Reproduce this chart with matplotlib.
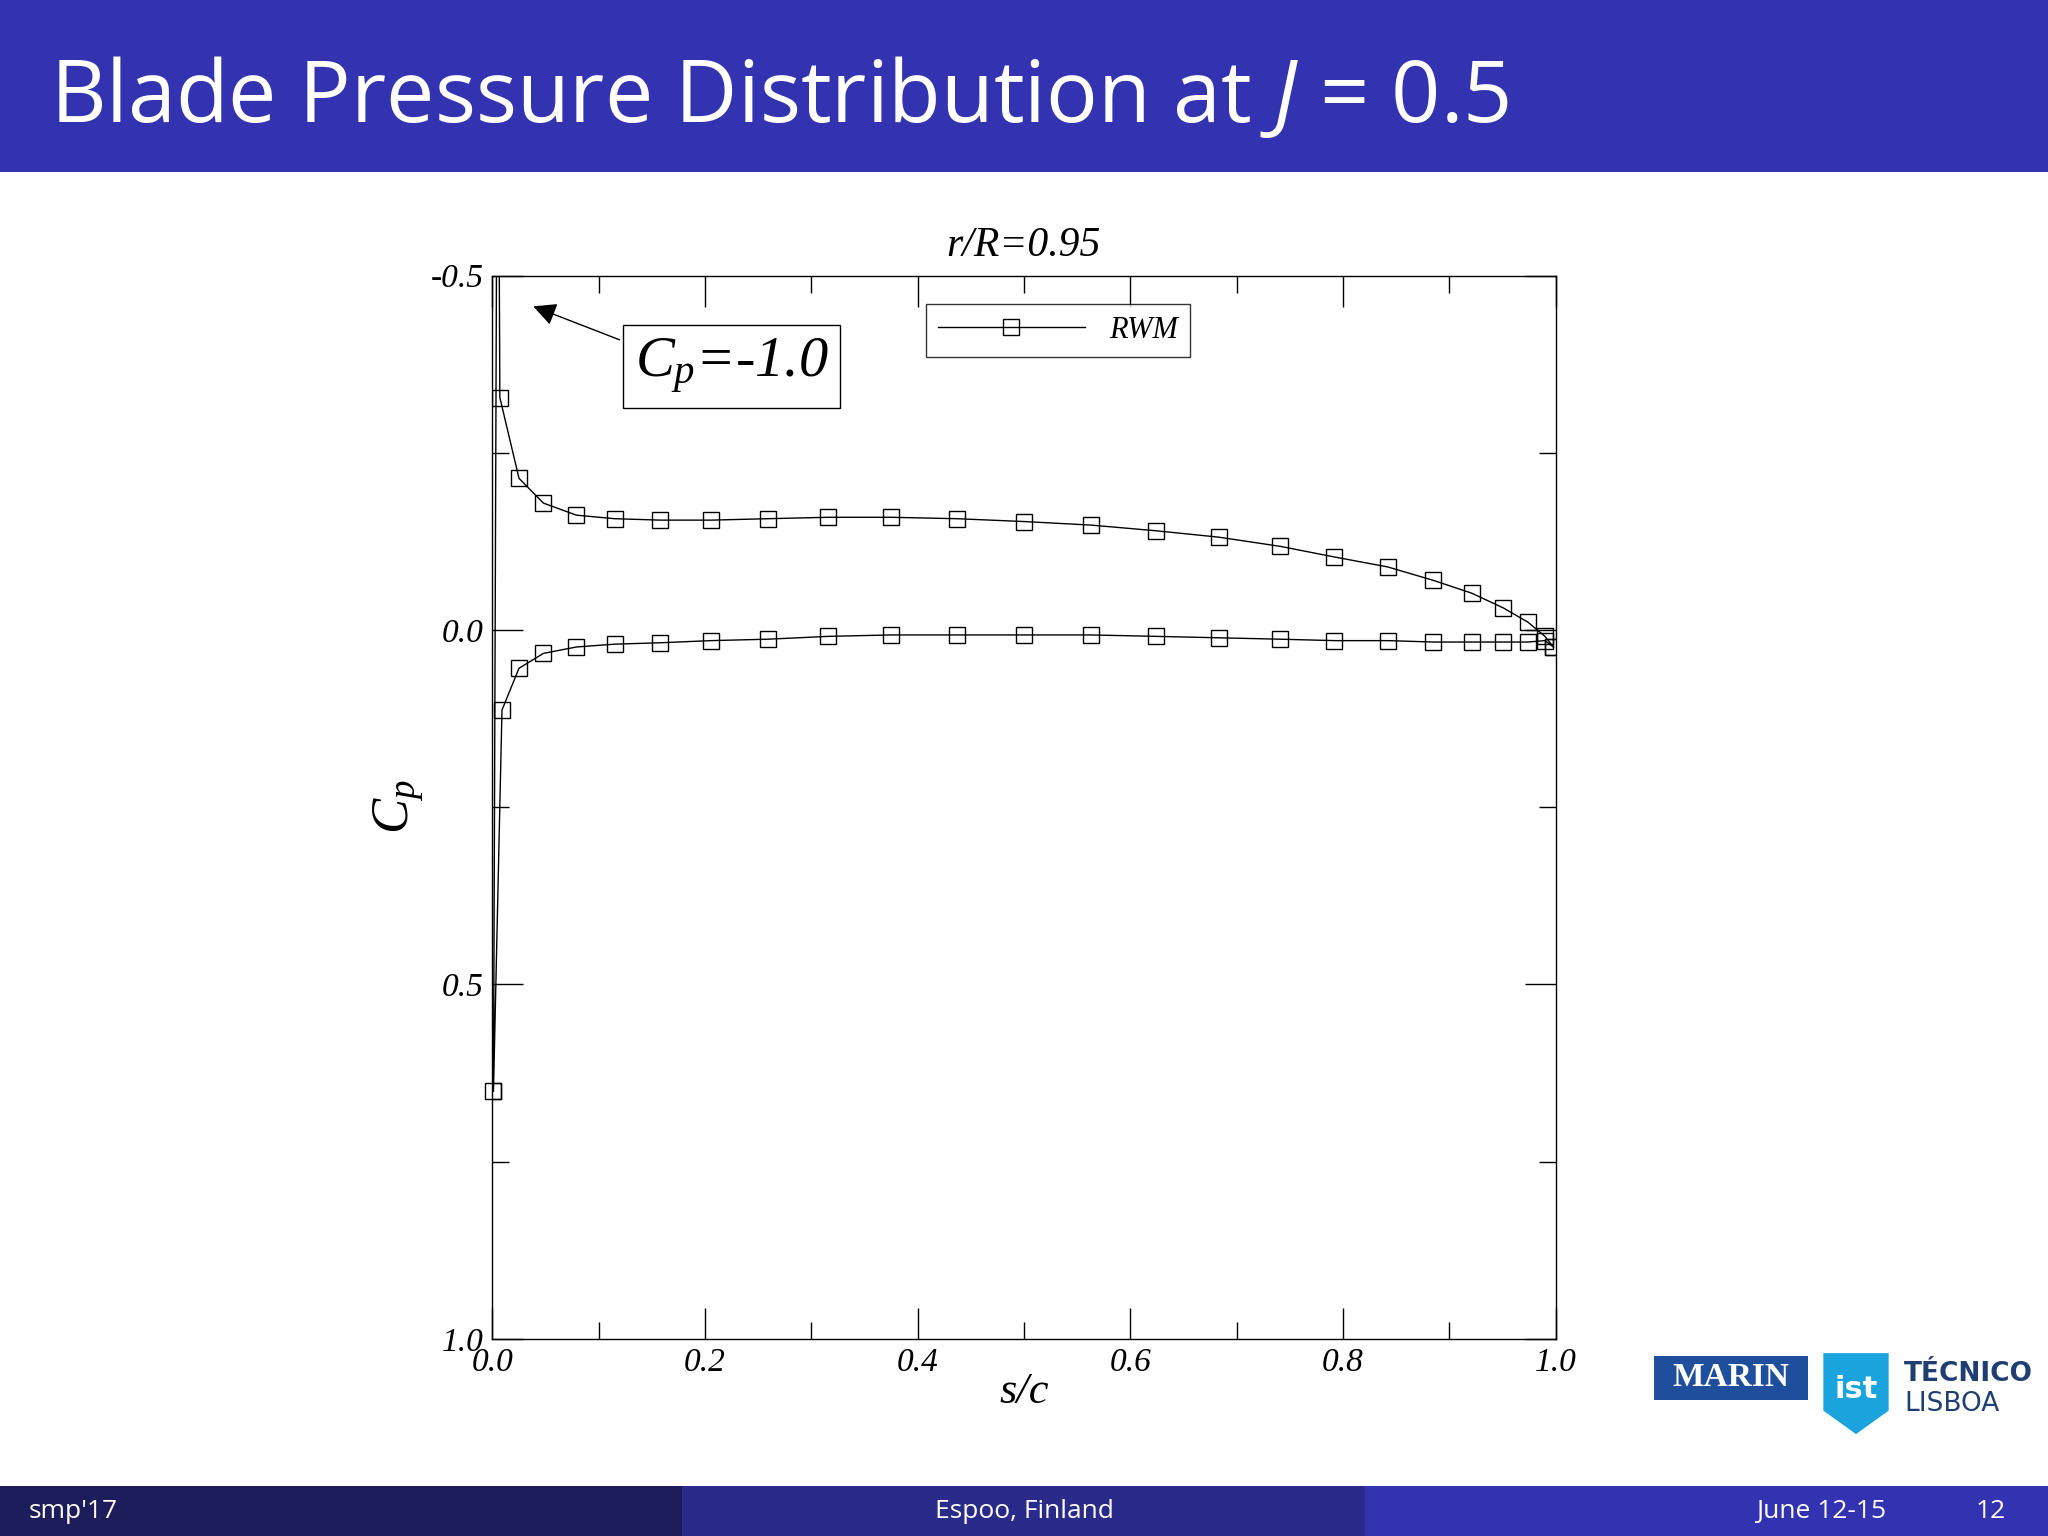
import matplotlib
matplotlib.use("Agg")
import matplotlib.pyplot as plt
from matplotlib.patches import Rectangle, Polygon

plt.rcParams["mathtext.fontset"] = "custom"
plt.rcParams["mathtext.rm"] = "Liberation Serif"
plt.rcParams["mathtext.it"] = "Liberation Serif:italic"
plt.rcParams["mathtext.sf"] = "Open Sans:italic"

title = "Blade Pressure Distribution at "
subtitle = "r/R=0.95"
series_name = "RWM"
x_ticks = [0.0, 0.2, 0.4, 0.6, 0.8, 1.0]
y_ticks = [-0.5, 0.0, 0.5, 1.0]

# upper (suction) side, trailing edge -> leading edge
upper_s = [0.998, 0.990, 0.974, 0.951, 0.921, 0.885, 0.842, 0.792, 0.741, 0.683, 0.624, 0.563,
           0.500, 0.437, 0.375, 0.316, 0.259, 0.206, 0.158, 0.115, 0.079, 0.048, 0.025, 0.007]
upper_cp = [0.024, 0.009, -0.011, -0.031, -0.052, -0.070, -0.089, -0.103, -0.118, -0.131, -0.140, -0.148,
            -0.153, -0.157, -0.159, -0.159, -0.157, -0.155, -0.155, -0.157, -0.162, -0.179, -0.214, -0.328]
# leading-edge peak (off scale) and stagnation point
le_s = [0.005, 0.001]
le_cp = [-1.0, 0.651]
# lower (pressure) side, leading edge -> trailing edge
lower_s = [0.009, 0.025, 0.048, 0.079, 0.115, 0.158, 0.206, 0.259, 0.316, 0.375, 0.437, 0.500,
           0.563, 0.624, 0.683, 0.741, 0.792, 0.842, 0.885, 0.921, 0.951, 0.974, 0.990, 0.998]
lower_cp = [0.113, 0.054, 0.033, 0.024, 0.020, 0.018, 0.015, 0.013, 0.009, 0.007, 0.007, 0.007,
            0.007, 0.009, 0.011, 0.013, 0.015, 0.015, 0.017, 0.017, 0.017, 0.017, 0.015, 0.024]

s_all = upper_s + le_s + lower_s
cp_all = upper_cp + le_cp + lower_cp
marks = [i for i in range(len(s_all)) if i != len(upper_s)]

fig = plt.figure(figsize=(20.48, 15.36), dpi=100)
fig.patch.set_facecolor("white")

# header
fig.add_artist(Rectangle((0, 1 - 132/1176), 1, 132/1176, transform=fig.transFigure,
                         facecolor="#3333b2", edgecolor="none"))
fig.text(38/1568, 1 - 76/1176, title + r"$\mathsf{J}$ = 0.5", color="white", fontsize=62,
         family="Open Sans", va="center", ha="left")

# footer
fh = 38/1176
for x0, x1, c in [(0, 522, "#1d1d5c"), (522, 1045, "#2a2a8a"), (1045, 1568, "#3333b2")]:
    fig.add_artist(Rectangle((x0/1568, 0), (x1-x0)/1568, fh, transform=fig.transFigure,
                             facecolor=c, edgecolor="none"))
fig.text(22/1568, fh/2, "smp'17", color="white", fontsize=19, va="center", family="Open Sans")
fig.text(784/1568, fh/2, "Espoo, Finland", color="white", fontsize=19, va="center", ha="center", family="Open Sans")
fig.text(1444/1568, fh/2, "June 12-15", color="white", fontsize=19, va="center", ha="right", family="Open Sans")
fig.text(1536/1568, fh/2, "12", color="white", fontsize=19, va="center", ha="right", family="Open Sans")

# logos
fig.add_artist(Rectangle((1266/1568, 1 - 1072/1176), 118/1568, 34/1176, transform=fig.transFigure,
                         facecolor="#1f4e9c", edgecolor="none"))
fig.text(1325/1568, 1 - 1055/1176, "MARIN", color="white", fontsize=24, fontweight="bold",
         family="Liberation Serif", ha="center", va="center")
fig.add_artist(Polygon([(1396/1568, 1-1036/1176), (1446/1568, 1-1036/1176), (1446/1568, 1-1080/1176),
                        (1421/1568, 1-1098/1176), (1396/1568, 1-1080/1176)], closed=True,
                       transform=fig.transFigure, facecolor="#1aa3dc", edgecolor="none"))
fig.text(1421/1568, 1 - 1064/1176, "ist", color="white", fontsize=22, fontweight="bold",
         ha="center", va="center", family="DejaVu Sans")
fig.text(1458/1568, 1 - 1052/1176, "TÉCNICO", color="#1f3f73", fontsize=19, fontweight="bold",
         ha="left", va="center", family="DejaVu Sans")
fig.text(1458/1568, 1 - 1075/1176, "LISBOA", color="#1f3f73", fontsize=19,
         ha="left", va="center", family="DejaVu Sans")

# axes
ax = fig.add_axes([377/1568, 1 - 1025/1176, 814/1568, 814/1176])
line, = ax.plot(s_all, cp_all, color="black", lw=1.0, marker="s", markersize=11,
                markerfacecolor="none", markeredgecolor="black", markeredgewidth=1.0,
                markevery=marks, label=series_name)
ax.set_xlim(0, 1)
ax.set_ylim(1.0, -0.5)
ax.set_xticks(x_ticks)
ax.set_xticks([0.1, 0.3, 0.5, 0.7, 0.9], minor=True)
ax.set_yticks(y_ticks)
ax.set_yticks([-0.25, 0.25, 0.75], minor=True)
ax.set_xticklabels([f"{v:.1f}" for v in x_ticks])
ax.set_yticklabels([f"{v:.1f}" for v in y_ticks])
ax.tick_params(which="major", direction="in", length=22, width=1, top=True, right=True,
               labelsize=24, pad=6)
ax.tick_params(which="minor", direction="in", length=12, width=1, top=True, right=True)
for lab in ax.get_xticklabels() + ax.get_yticklabels():
    lab.set_fontfamily("Liberation Serif")
    lab.set_fontstyle("italic")
for sp in ax.spines.values():
    sp.set_linewidth(1.0)

# stagnation-point marker drawn unclipped on top of the axis edge
ax.plot([le_s[1]], [le_cp[1]], ls="none", marker="s", markersize=11, markerfacecolor="none",
        markeredgecolor="black", markeredgewidth=1.0, clip_on=False)

ax.set_xlabel("s/c", fontsize=32, family="Liberation Serif", style="italic", labelpad=-4)
ax.set_ylabel(r"$C_p$", fontsize=38, labelpad=4)
ax.set_title(subtitle, fontsize=30, family="Liberation Serif", style="italic", pad=14)

leg = ax.legend(loc="upper left", bbox_to_anchor=(320/814, 1 - 10/814),
                frameon=True, fancybox=False, edgecolor="black", handlelength=4.8,
                borderpad=0.4, prop={"family": "Liberation Serif", "style": "italic", "size": 22})
leg.get_frame().set_linewidth(1.0)

ax.annotate("", xy=(0.036, -0.458), xytext=(0.122, -0.408),
            arrowprops=dict(arrowstyle="-|>", color="black", lw=1.0, mutation_scale=35))
ax.text(0.225, -0.372, r"$C_p$=-1.0", fontsize=42, family="Liberation Serif", style="italic",
        ha="center", va="center",
        bbox=dict(boxstyle="square,pad=0.2", facecolor="white", edgecolor="black", lw=1.0))

fig.savefig("out.png", dpi=100)
